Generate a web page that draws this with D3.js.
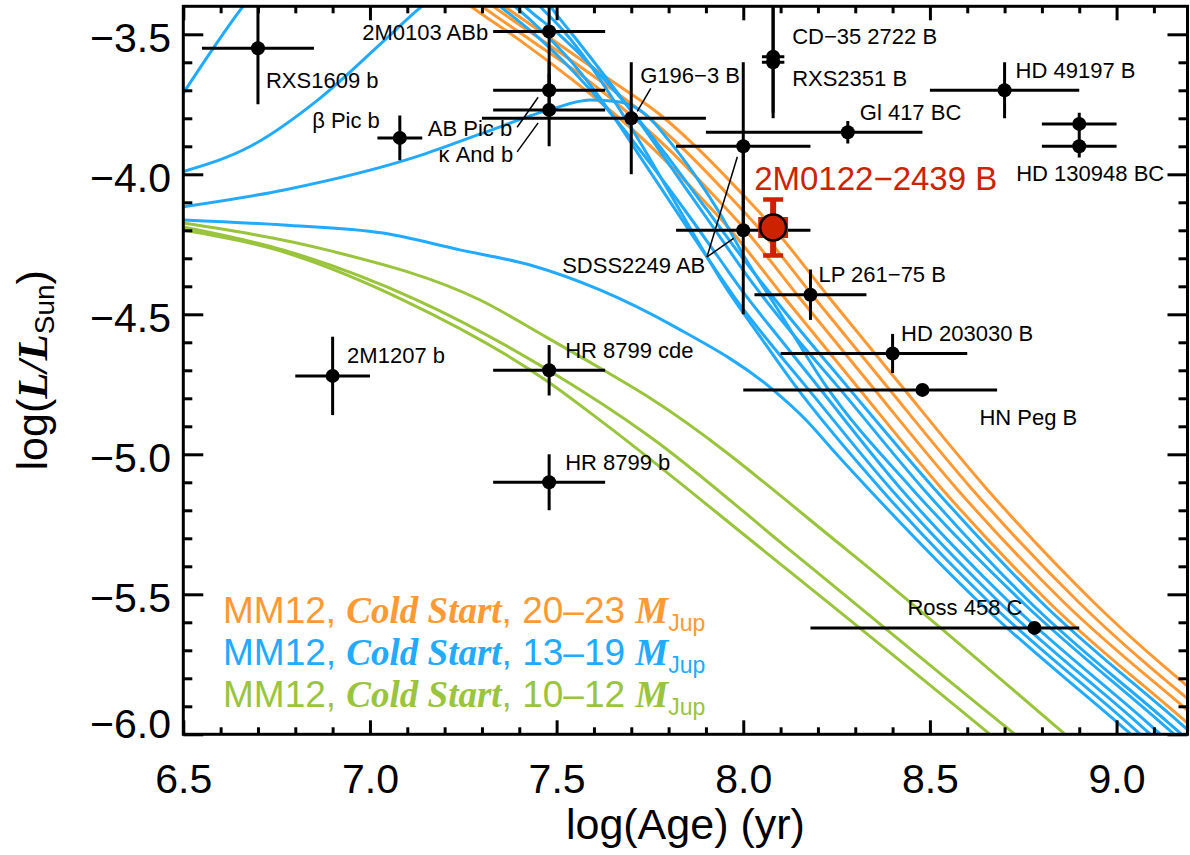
<!DOCTYPE html>
<html>
<head>
<meta charset="utf-8">
<script src="https://cdn.jsdelivr.net/npm/d3@7"></script>
<style>
  html, body { margin: 0; padding: 0; background: #fff; }
  svg { display: block; }
</style>
</head>
<body>
<svg id="chart" width="1190" height="855"></svg>
<script>
// ---------- axis ticks ----------
const ageTicks = [6.5, 7.0, 7.5, 8.0, 8.5, 9.0];
const lumTicks = [-3.5, -4.0, -4.5, -5.0, -5.5, -6.0];

// ---------- comparison objects: log(age/yr), log(L/Lsun) ----------
const objName = ["RXS1609 b", "β Pic b", "2M0103 ABb", "AB Pic b", "κ And b", "G196−3 B",
  "CD−35 2722 B", "RXS2351 B", "Gl 417 BC", "HD 49197 B", "HD 130948 BC", "HD 130948 BC",
  "SDSS2249 AB", "SDSS2249 AB", "LP 261−75 B", "HD 203030 B", "HN Peg B", "2M1207 b",
  "HR 8799 cde", "HR 8799 b", "Ross 458 C"];
const objLogAge   = [6.70, 7.08, 7.48, 7.48, 7.48, 7.70, 8.08, 8.08, 8.28, 8.70, 8.90, 8.90, 8.00, 8.00, 8.18, 8.40, 8.48, 6.90, 7.48, 7.48, 8.78];
const objAgeMinus = [0.15, 0.06, 0.15, 0.15, 0.15, 0.40, 0.03, 0.03, 0.38, 0.20, 0.10, 0.10, 0.18, 0.18, 0.15, 0.30, 0.48, 0.10, 0.15, 0.15, 0.60];
const objAgePlus  = [0.15, 0.06, 0.15, 0.15, 0.15, 0.20, 0.03, 0.03, 0.20, 0.20, 0.10, 0.10, 0.18, 0.18, 0.15, 0.20, 0.20, 0.10, 0.15, 0.15, 0.12];
const objLogL     = [-3.55, -3.87, -3.49, -3.70, -3.77, -3.80, -3.58, -3.60, -3.85, -3.70, -3.82, -3.90, -3.90, -4.20, -4.43, -4.64, -4.77, -4.72, -4.70, -5.10, -5.62];
const objLogLErr  = [0.20, 0.08, 0.20, 0.10, 0.13, 0.20, 0.20, 0.20, 0.04, 0.10, 0.04, 0.04, 0.30, 0.30, 0.09, 0.07, 0.02, 0.14, 0.09, 0.10, 0.00];

// ---------- the new companion ----------
const targetName = "2M0122−2439 B";
const targetLogAge = 8.08, targetAgeErr = 0.04;
const targetLogL = -4.19, targetLogLErr = 0.10;

// ---------- MM12 cold-start tracks, 20-23 MJup ----------
const orangeTrack1 = [[7.22,-3.35],[7.27,-3.40],[7.40,-3.52],[7.54,-3.66],[7.66,-3.79],[7.76,-3.91],[7.87,-4.06],[7.96,-4.19],[8.11,-4.44],[8.30,-4.75],[8.53,-5.12],[8.82,-5.53],[9.19,-5.96],[9.25,-6.03]];
const orangeTrack2 = [[7.25,-3.35],[7.30,-3.40],[7.43,-3.52],[7.58,-3.66],[7.70,-3.79],[7.80,-3.91],[7.91,-4.06],[8.00,-4.19],[8.15,-4.44],[8.34,-4.75],[8.57,-5.12],[8.86,-5.53],[9.23,-5.96],[9.29,-6.03]];
const orangeTrack3 = [[7.28,-3.35],[7.33,-3.40],[7.46,-3.52],[7.61,-3.66],[7.74,-3.79],[7.84,-3.91],[7.95,-4.06],[8.04,-4.19],[8.19,-4.44],[8.38,-4.75],[8.61,-5.12],[8.90,-5.53],[9.27,-5.96]];
const orangeTrack4 = [[7.31,-3.35],[7.36,-3.40],[7.49,-3.52],[7.64,-3.66],[7.78,-3.79],[7.88,-3.91],[7.99,-4.06],[8.08,-4.19],[8.23,-4.44],[8.42,-4.75],[8.65,-5.12],[8.94,-5.53],[9.31,-5.96]];

// ---------- MM12 cold-start tracks, 13-19 MJup ----------
const blueTrack1 = [[6.50,-3.71],[6.58,-3.55],[6.66,-3.40],[6.75,-3.26],[6.90,-3.12],[7.10,-3.08],[7.28,-3.20],[7.415,-3.40],[7.51,-3.505],[7.60,-3.622],[7.70,-3.772],[7.80,-3.942],[7.90,-4.122],[8.00,-4.302],[8.10,-4.472],[8.28,-4.76],[8.51,-5.12],[8.80,-5.53],[9.17,-5.96],[9.23,-6.03]];
const blueTrack2 = [[6.50,-3.99],[6.68,-3.90],[6.86,-3.735],[7.04,-3.52],[7.13,-3.41],[7.24,-3.30],[7.36,-3.26],[7.45,-3.34],[7.50,-3.43],[7.56,-3.53],[7.63,-3.65],[7.72,-3.81],[7.82,-4.00],[7.92,-4.19],[8.02,-4.38],[8.12,-4.55],[8.25,-4.753],[8.48,-5.12],[8.77,-5.531],[9.14,-5.96],[9.20,-6.03]];
const blueTrack3 = [[6.50,-4.116],[6.77,-4.056],[7.125,-3.937],[7.30,-3.854],[7.48,-3.770],[7.59,-3.735],[7.67,-3.742],[7.74,-3.788],[7.80,-3.878],[7.87,-4.002],[7.94,-4.145],[8.005,-4.299],[8.085,-4.467],[8.22,-4.753],[8.45,-5.12],[8.75,-5.531],[9.12,-5.96],[9.18,-6.03]];
const blueTrack4 = [[7.30,-3.35],[7.348,-3.40],[7.45,-3.51],[7.55,-3.64],[7.65,-3.79],[7.75,-3.96],[7.85,-4.14],[7.93,-4.29],[8.005,-4.43],[8.10,-4.59],[8.19,-4.74],[8.42,-5.12],[8.715,-5.531],[9.084,-5.96],[9.143,-6.03]];
const blueTrack5 = [[7.34,-3.35],[7.388,-3.40],[7.47,-3.50],[7.56,-3.63],[7.65,-3.79],[7.74,-3.97],[7.83,-4.15],[7.91,-4.31],[7.978,-4.442],[8.07,-4.60],[8.165,-4.753],[8.393,-5.12],[8.688,-5.531],[9.057,-5.96],[9.116,-6.03]];
const blueTrack6 = [[7.42,-3.35],[7.455,-3.40],[7.52,-3.49],[7.59,-3.61],[7.66,-3.75],[7.73,-3.90],[7.80,-4.06],[7.87,-4.22],[7.951,-4.40],[8.04,-4.57],[8.138,-4.753],[8.366,-5.12],[8.661,-5.531],[9.03,-5.96],[9.089,-6.03]];
const blueTrack7 = [[6.50,-4.163],[6.767,-4.181],[7.035,-4.210],[7.241,-4.270],[7.429,-4.324],[7.616,-4.413],[7.817,-4.545],[8.08,-4.77],[8.17,-4.88],[8.25,-5.00],[8.34,-5.13],[8.634,-5.531],[9.004,-5.960],[9.063,-6.028]];

// ---------- MM12 cold-start tracks, 10-12 MJup ----------
const greenTrack12 = [[6.50,-4.174],[6.884,-4.270],[7.295,-4.449],[7.477,-4.585],[7.616,-4.692],[7.750,-4.799],[8.278,-5.342],[8.862,-6.000],[8.92,-6.066]];
const greenTrack11 = [[6.50,-4.188],[6.767,-4.270],[7.126,-4.449],[7.477,-4.699],[7.750,-4.937],[8.125,-5.342],[8.728,-6.000],[8.79,-6.066]];
const greenTrack10 = [[6.50,-4.199],[6.750,-4.270],[7.089,-4.449],[7.477,-4.741],[7.616,-4.878],[8.053,-5.342],[8.661,-6.000],[8.72,-6.065]];

// ---------- legend text ----------
const legendModel = "MM12";
const legendMode = "Cold Start";
const legendRanges = ["20–23", "13–19", "10–12"];

// ---------- styling / layout ----------
const ORANGE = "#ff9933", BLUE = "#22aaff", GREEN = "#99c43c", RED = "#cc2200";
const SANS = "'Liberation Sans', Arial, Helvetica, sans-serif";
const SERIF = "'Liberation Serif', 'Times New Roman', Times, serif";

const plot = { left: 183.3, right: 1187.5, top: 6.3, bottom: 734.3 };

// label offsets (px) relative to the marker they describe
const labelSpots = [
  { i: 0,  dx: 8,    dy: 40,   anchor: "start" },
  { i: 1,  dx: -20,  dy: -10,  anchor: "end" },
  { i: 2,  dx: -61,  dy: 8.5,  anchor: "end" },
  { i: 3,  dx: -37,  dy: 46,   anchor: "end" },
  { i: 4,  dx: -36,  dy: 52,   anchor: "end" },
  { i: 5,  dx: 9,    dy: -35,  anchor: "start" },
  { i: 6,  dx: 19,   dy: -12.7,anchor: "start" },
  { i: 7,  dx: 19,   dy: 23.7, anchor: "start" },
  { i: 8,  dx: 12,   dy: -12,  anchor: "start" },
  { i: 9,  dx: 11,   dy: -12,  anchor: "start" },
  { i: 11, dx: -63,  dy: 35,   anchor: "start" },
  { i: 13, dx: -38,  dy: 43,   anchor: "end" },
  { i: 14, dx: 8,    dy: -13,  anchor: "start" },
  { i: 15, dx: 8.5,  dy: -12.5,anchor: "start" },
  { i: 16, dx: 57,   dy: 35,   anchor: "start" },
  { i: 17, dx: 14.5, dy: -13,  anchor: "start" },
  { i: 18, dx: 16,   dy: -12,  anchor: "start" },
  { i: 19, dx: 16,   dy: -12,  anchor: "start" },
  { i: 20, dx: -12,  dy: -13,  anchor: "end" }
];
// leader lines: start offset from marker a, end offset from marker b
const leaders = [
  { a: 3,  ax: -32,   ay: 37,   b: 3,  bx: -11,  by: 7 },
  { a: 4,  ax: -32,   ay: 42,   b: 4,  bx: -11,  by: 13 },
  { a: 5,  ax: 19.5,  ay: -30,  b: 5,  bx: 6,    by: -7 },
  { a: 13, ax: -36.3, ay: 26.7, b: 12, bx: -5.9, by: 10.4 },
  { a: 13, ax: -36.3, ay: 26.7, b: 13, bx: -9.7, by: 8 }
];

// ---------- scales ----------
const x = d3.scaleLinear().domain([6.5, 9.19]).range([plot.left, plot.right]);
const y = d3.scaleLinear().domain([-3.4, -6.0]).range([plot.top, plot.bottom]);

const svg = d3.select("#chart");
svg.append("rect").attr("width", 1190).attr("height", 855).attr("fill", "#fff");

svg.append("defs").append("clipPath").attr("id", "plotClip")
  .append("rect")
  .attr("x", plot.left).attr("y", plot.top)
  .attr("width", plot.right - plot.left).attr("height", plot.bottom - plot.top);

// ---------- model tracks ----------
const tracks = [
  { values: orangeTrack1, color: ORANGE }, { values: orangeTrack2, color: ORANGE },
  { values: orangeTrack3, color: ORANGE }, { values: orangeTrack4, color: ORANGE },
  { values: blueTrack1, color: BLUE }, { values: blueTrack2, color: BLUE },
  { values: blueTrack3, color: BLUE }, { values: blueTrack4, color: BLUE },
  { values: blueTrack5, color: BLUE }, { values: blueTrack6, color: BLUE },
  { values: blueTrack7, color: BLUE },
  { values: greenTrack12, color: GREEN }, { values: greenTrack11, color: GREEN },
  { values: greenTrack10, color: GREEN }
];

const line = d3.line().x(d => x(d[0])).y(d => y(d[1])).curve(d3.curveMonotoneX);
const gTracks = svg.append("g").attr("clip-path", "url(#plotClip)");
gTracks.selectAll("path").data(tracks).join("path")
  .attr("d", d => line(d.values))
  .attr("fill", "none")
  .attr("stroke", d => d.color)
  .attr("stroke-width", 3)
  .attr("stroke-linejoin", "round");

// ---------- comparison objects ----------
const objects = objName.map((n, i) => ({
  name: n, age: objLogAge[i], aLo: objAgeMinus[i], aHi: objAgePlus[i],
  L: objLogL[i], Lerr: objLogLErr[i]
}));

const gErr = svg.append("g").attr("clip-path", "url(#plotClip)")
  .attr("stroke", "#000").attr("stroke-width", 3);
objects.forEach(o => {
  gErr.append("line")
    .attr("x1", x(o.age - o.aLo)).attr("x2", x(o.age + o.aHi))
    .attr("y1", y(o.L)).attr("y2", y(o.L));
  if (o.Lerr > 0) {
    gErr.append("line")
      .attr("x1", x(o.age)).attr("x2", x(o.age))
      .attr("y1", y(o.L + o.Lerr)).attr("y2", y(o.L - o.Lerr));
  }
});
svg.append("g").selectAll("circle").data(objects).join("circle")
  .attr("cx", d => x(d.age)).attr("cy", d => y(d.L)).attr("r", 7).attr("fill", "#000");

// labels and leader lines
svg.append("g").attr("stroke", "#000").attr("stroke-width", 1.5)
  .selectAll("line").data(leaders).join("line")
  .attr("x1", d => x(objects[d.a].age) + d.ax).attr("y1", d => y(objects[d.a].L) + d.ay)
  .attr("x2", d => x(objects[d.b].age) + d.bx).attr("y2", d => y(objects[d.b].L) + d.by);

svg.append("g").attr("font-family", SANS).attr("font-size", 22).attr("fill", "#000")
  .selectAll("text").data(labelSpots).join("text")
  .attr("x", d => x(objects[d.i].age) + d.dx)
  .attr("y", d => y(objects[d.i].L) + d.dy)
  .attr("text-anchor", d => d.anchor)
  .text(d => objects[d.i].name);

// ---------- the new companion ----------
const gT = svg.append("g");
const tx = x(targetLogAge), ty = y(targetLogL);
gT.append("line")
  .attr("x1", x(targetLogAge - targetAgeErr)).attr("x2", x(targetLogAge + targetAgeErr))
  .attr("y1", ty).attr("y2", ty)
  .attr("stroke", RED).attr("stroke-width", 21);
gT.append("line")
  .attr("x1", tx).attr("x2", tx)
  .attr("y1", y(targetLogL + targetLogLErr)).attr("y2", y(targetLogL - targetLogLErr))
  .attr("stroke", RED).attr("stroke-width", 6);
[targetLogL + targetLogLErr, targetLogL - targetLogLErr].forEach(v => {
  gT.append("line")
    .attr("x1", tx - 10).attr("x2", tx + 10)
    .attr("y1", y(v)).attr("y2", y(v))
    .attr("stroke", RED).attr("stroke-width", 4.5);
});
gT.append("circle").attr("cx", tx).attr("cy", ty).attr("r", 13)
  .attr("fill", RED).attr("stroke", "#000").attr("stroke-width", 2.5);
gT.append("text")
  .attr("x", tx - 19).attr("y", ty - 37.5)
  .attr("font-family", SANS).attr("font-size", 33).attr("fill", RED)
  .text(targetName);

// ---------- axes ----------
const xMinor = d3.range(66, 92).filter(v => v % 5 !== 0).map(v => v / 10);
const yMinor = d3.range(36, 60).filter(v => v % 5 !== 0).map(v => -v / 10);

function styleAxis(g, size) {
  g.select(".domain").remove();
  g.selectAll("line").attr("stroke", "#000").attr("stroke-width", 3);
  g.selectAll("text").attr("font-family", SANS).attr("font-size", size).attr("fill", "#000");
}

// bottom
svg.append("g").attr("transform", `translate(0,${plot.bottom})`)
  .call(d3.axisBottom(x).tickValues(ageTicks).tickFormat(d3.format(".1f"))
    .tickSizeInner(-14).tickSizeOuter(0).tickPadding(29.6))
  .call(g => styleAxis(g, 41));
svg.append("g").attr("transform", `translate(0,${plot.bottom})`)
  .call(d3.axisBottom(x).tickValues(xMinor).tickFormat("").tickSizeInner(-7).tickSizeOuter(0))
  .call(g => styleAxis(g, 41));
// top
svg.append("g").attr("transform", `translate(0,${plot.top})`)
  .call(d3.axisTop(x).tickValues(ageTicks).tickFormat("").tickSizeInner(-14).tickSizeOuter(0))
  .call(g => styleAxis(g, 41));
svg.append("g").attr("transform", `translate(0,${plot.top})`)
  .call(d3.axisTop(x).tickValues(xMinor).tickFormat("").tickSizeInner(-7).tickSizeOuter(0))
  .call(g => styleAxis(g, 41));
// left
const gy = svg.append("g").attr("transform", `translate(${plot.left},0)`)
  .call(d3.axisLeft(y).tickValues(lumTicks).tickFormat(d3.format(".1f"))
    .tickSizeInner(-20).tickSizeOuter(0).tickPadding(12.3))
  .call(g => styleAxis(g, 41));
gy.selectAll("text").attr("dy", d => d === -6.0 ? 3 : 17.6);
svg.append("g").attr("transform", `translate(${plot.left},0)`)
  .call(d3.axisLeft(y).tickValues(yMinor).tickFormat("").tickSizeInner(-9).tickSizeOuter(0))
  .call(g => styleAxis(g, 41));
// right
svg.append("g").attr("transform", `translate(${plot.right},0)`)
  .call(d3.axisRight(y).tickValues(lumTicks).tickFormat("").tickSizeInner(-20).tickSizeOuter(0))
  .call(g => styleAxis(g, 41));
svg.append("g").attr("transform", `translate(${plot.right},0)`)
  .call(d3.axisRight(y).tickValues(yMinor).tickFormat("").tickSizeInner(-9).tickSizeOuter(0))
  .call(g => styleAxis(g, 41));

// frame
svg.append("rect")
  .attr("x", plot.left).attr("y", plot.top)
  .attr("width", plot.right - plot.left).attr("height", plot.bottom - plot.top)
  .attr("fill", "none").attr("stroke", "#000").attr("stroke-width", 3);

// ---------- axis titles ----------
svg.append("text")
  .attr("x", (plot.left + plot.right) / 2).attr("y", 839)
  .attr("text-anchor", "middle").attr("font-family", SANS).attr("font-size", 43)
  .text("log(Age) (yr)");

const yTitle = svg.append("text")
  .attr("transform", `translate(47,${(plot.top + plot.bottom) / 2}) rotate(-90)`)
  .attr("text-anchor", "middle").attr("font-family", SANS).attr("font-size", 43);
yTitle.append("tspan").text("log(");
yTitle.append("tspan").attr("font-family", SERIF).attr("font-weight", "bold").attr("font-style", "italic").text("L/L");
yTitle.append("tspan").attr("font-size", 28).attr("dy", 7).text("Sun");
yTitle.append("tspan").attr("dy", -7).text(")");

// ---------- legend ----------
const legendColors = [ORANGE, BLUE, GREEN];
const legendBaselines = [623, 665, 707];
legendRanges.forEach((r, k) => {
  const t = svg.append("text")
    .attr("x", 223).attr("y", legendBaselines[k])
    .attr("font-family", SANS).attr("font-size", 37).attr("fill", legendColors[k]);
  t.append("tspan").text(legendModel + ", ");
  t.append("tspan").attr("font-family", SERIF).attr("font-weight", "bold").attr("font-style", "italic").text(legendMode);
  t.append("tspan").text(", " + r + " ");
  t.append("tspan").attr("font-family", SERIF).attr("font-weight", "bold").attr("font-style", "italic").text("M");
  t.append("tspan").attr("font-size", 23).attr("dy", 8).text("Jup");
});
</script>
</body>
</html>
